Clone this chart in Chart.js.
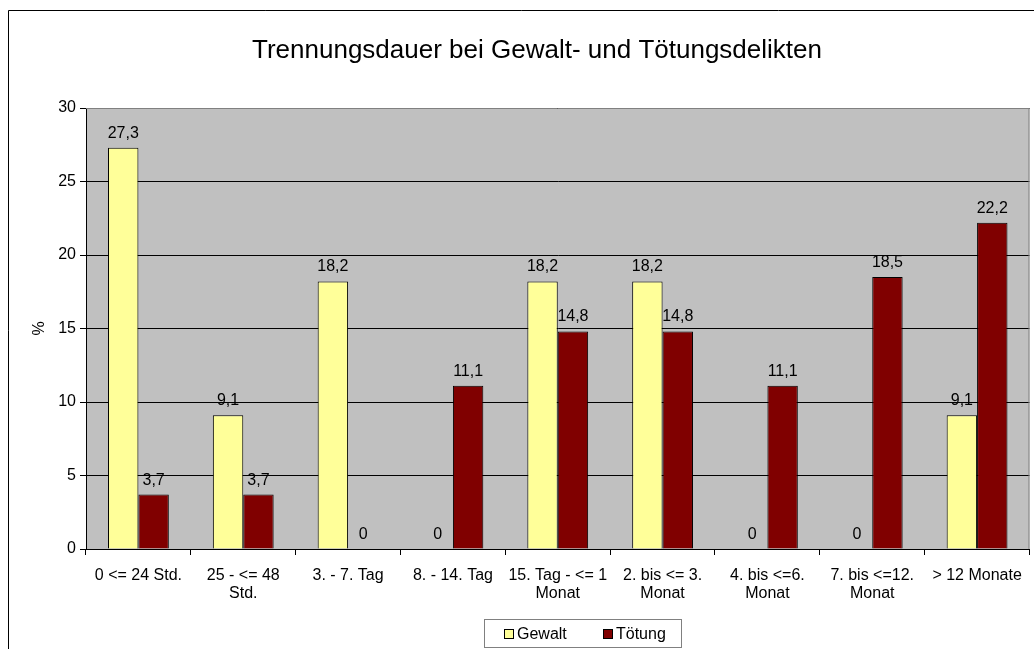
<!DOCTYPE html>
<html>
<head>
<meta charset="utf-8">
<script src="https://cdn.jsdelivr.net/npm/chart.js@4/dist/chart.umd.min.js"></script>
<style>
html,body{margin:0;padding:0;background:#fff;}
#wrap{width:1034px;height:649px;position:relative;}
</style>
</head>
<body>
<div id="wrap"><canvas id="c" width="1034" height="649"></canvas></div>
<script>
const categories = [
  "0 <= 24 Std.",
  ["25 - <= 48", "Std."],
  "3. - 7. Tag",
  "8. - 14. Tag",
  ["15. Tag - <= 1", "Monat"],
  ["2. bis <= 3.", "Monat"],
  ["4. bis <=6.", "Monat"],
  ["7. bis <=12.", "Monat"],
  "> 12 Monate"
];
const gewalt = [27.3, 9.1, 18.2, 0, 18.2, 18.2, 0, 0, 9.1];
const toetung = [3.7, 3.7, 0, 11.1, 14.8, 14.8, 11.1, 18.5, 22.2];
const seriesNames = ["Gewalt", "Tötung"];
const yTicks = [0, 5, 10, 15, 20, 25, 30];
const titleText = "Trennungsdauer bei Gewalt- und Tötungsdelikten";
const yTitle = "%";

const FONT = "'Liberation Sans', Arial, sans-serif";
const colors = ["#FFFF99", "#800000"];

const decorPlugin = {
  id: 'decor',
  beforeDraw(chart) {
    const ctx = chart.ctx;
    const a = chart.chartArea;
    ctx.save();
    ctx.fillStyle = '#fff';
    ctx.fillRect(0, 0, chart.width, chart.height);
    ctx.strokeStyle = '#000';
    ctx.lineWidth = 1;
    ctx.beginPath();
    ctx.moveTo(8.5, chart.height + 5);
    ctx.lineTo(8.5, 10.5);
    ctx.lineTo(chart.width + 5, 10.5);
    ctx.stroke();
    ctx.fillStyle = '#C0C0C0';
    ctx.fillRect(a.left, a.top, a.right - a.left, a.bottom - a.top);
    ctx.restore();
  },
  afterDraw(chart) {
    const ctx = chart.ctx;
    const a = chart.chartArea;
    ctx.save();
    ctx.strokeStyle = '#808080';
    ctx.lineWidth = 1;
    ctx.beginPath();
    ctx.moveTo(a.left, a.top + 0.5);
    ctx.lineTo(a.right - 0.5, a.top + 0.5);
    ctx.lineTo(a.right - 0.5, a.bottom);
    ctx.stroke();
    ctx.fillStyle = '#000';
    ctx.font = "26px " + FONT;
    ctx.textAlign = 'center';
    ctx.textBaseline = 'middle';
    ctx.fillText(titleText, 537, 51);
    ctx.strokeStyle = '#808080';
    ctx.strokeRect(484.5, 619.5, 197, 28);
    ctx.font = "16px " + FONT;
    ctx.textAlign = 'left';
    const items = [{x: 504, t: seriesNames[0], c: colors[0]}, {x: 603, t: seriesNames[1], c: colors[1]}];
    items.forEach(it => {
      ctx.fillStyle = it.c;
      ctx.fillRect(it.x + 0.5, 629.5, 9, 9);
      ctx.strokeStyle = '#000';
      ctx.strokeRect(it.x + 0.5, 629.5, 9, 9);
      ctx.fillStyle = '#000';
      ctx.fillText(it.t, it.x + 13, 634.5);
    });
    ctx.restore();
  },
  afterDatasetsDraw(chart) {
    const ctx = chart.ctx;
    ctx.save();
    ctx.fillStyle = '#000';
    ctx.font = "16px " + FONT;
    ctx.textAlign = 'center';
    ctx.textBaseline = 'alphabetic';
    chart.data.datasets.forEach((ds, di) => {
      const meta = chart.getDatasetMeta(di);
      meta.data.forEach((bar, i) => {
        const v = ds.data[i];
        const s = String(v).replace('.', ',');
        ctx.fillText(s, bar.x, bar.y - 10);
      });
    });
    ctx.restore();
  }
};

new Chart(document.getElementById('c'), {
  type: 'bar',
  data: {
    labels: categories,
    datasets: [
      {label: seriesNames[0], data: gewalt, backgroundColor: colors[0], borderColor: '#000', borderWidth: 1},
      {label: seriesNames[1], data: toetung, backgroundColor: colors[1], borderColor: '#000', borderWidth: 1}
    ]
  },
  options: {
    responsive: false,
    animation: false,
    devicePixelRatio: 1,
    layout: {padding: {left: 0, right: 4, top: 108, bottom: 0}},
    datasets: {bar: {categoryPercentage: 0.58, barPercentage: 1.0}},
    plugins: {
      legend: {display: false},
      title: {display: false},
      tooltip: {enabled: false}
    },
    scales: {
      x: {
        afterFit(scale) { scale.height = 100; },
        grid: {drawOnChartArea: false, drawTicks: true, tickLength: 6, color: '#000', offset: true},
        border: {color: '#000', width: 1},
        ticks: {color: '#000', font: {family: FONT, size: 16, lineHeight: 1.1}, padding: 12, maxRotation: 0, minRotation: 0, autoSkip: false}
      },
      y: {
        min: 0, max: 30,
        afterFit(scale) { scale.width = 86; },
        afterBuildTicks(scale) { scale.ticks = yTicks.map(v => ({value: v})); },
        grid: {color: '#000', tickLength: 6, drawTicks: true},
        border: {color: '#000', width: 1},
        ticks: {color: '#000', font: {family: FONT, size: 16}, padding: 4},
        title: {display: true, text: yTitle, color: '#000', font: {family: FONT, size: 16}, padding: {top: 30, bottom: 0}}
      }
    }
  },
  plugins: [decorPlugin]
});
</script>
</body>
</html>
